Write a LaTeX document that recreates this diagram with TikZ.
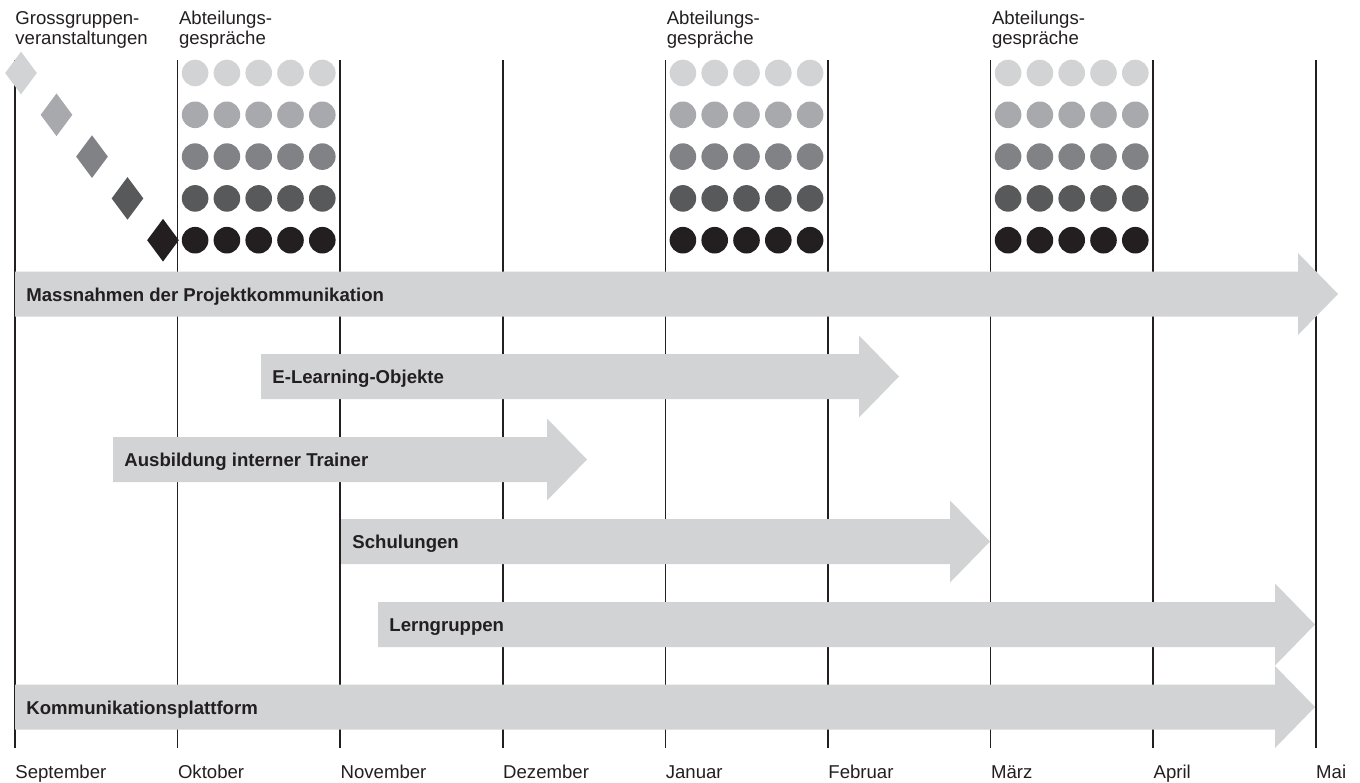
\documentclass[tikz,border=0pt]{standalone}
\usepackage{fontspec}
\setmainfont{Liberation Sans}
\usetikzlibrary{shapes.geometric}
\definecolor{shade1}{HTML}{D1D3D4}
\definecolor{shade2}{HTML}{A7A9AC}
\definecolor{shade3}{HTML}{808285}
\definecolor{shade4}{HTML}{58595B}
\definecolor{shade5}{HTML}{231F20}
\definecolor{bargray}{HTML}{D1D3D4}
\begin{document}
\begin{tikzpicture}[
       x=0.5pt, y=-0.5pt,
       font=\fontsize{9.3}{10}\selectfont,
       monthline/.style={line width=0.75pt, draw=shade5},
       monthname/.style={anchor=base west, inner sep=0pt, text=shade5},
       topnote/.style={anchor=north west, inner sep=0pt, align=left, text=shade5},
       dot/.style={circle, inner sep=0pt, minimum size=13.3pt},
       rhomb/.style={diamond, inner sep=0pt, minimum width=16pt, minimum height=21.5pt},
       barfill/.style={fill=bargray},
       bartext/.style={anchor=base west, inner sep=0pt, text=shade5, font=\fontsize{9.3}{10}\selectfont\bfseries}
   ]
   \useasboundingbox (0,0) rectangle (1360,782);

   \foreach \m [count=\i from 0] in {September,Oktober,November,Dezember,Januar,Februar,März,April,Mai} {
     \coordinate (top\i) at (15+162.6*\i,60);
     \coordinate (bot\i) at (15+162.6*\i,748);
     \draw[monthline] (top\i) -- (bot\i);
     \node[monthname] (month\i) at (15+162.6*\i,778) {\m};
   }

   \node[topnote] (gross) at (15,11) {Grossgruppen-\\veranstaltungen};
   \node[topnote] (abt1) at (178.6,11) {Abteilungs-\\gespräche};
   \node[topnote] (abt2) at (666.4,11) {Abteilungs-\\gespräche};
   \node[topnote] (abt3) at (991.6,11) {Abteilungs-\\gespräche};

   \foreach \r in {1,...,5}
     \node[rhomb, fill=shade\r] (gg\r) at (21+35.5*\r-35.5,73+41.8*\r-41.8) {};

   \foreach \g/\x in {okt/177.6,jan/665.4,mar/990.6}
     \foreach \r in {1,...,5}
       \foreach \c in {1,...,5}
         \node[dot, fill=shade\r] (\g-\r-\c) at (\x+17.5+31.8*\c-31.8,73+41.8*\r-41.8) {};

   \foreach \n/\xa/\xb/\y/\t in {
       mass/15/1338/294/Massnahmen der Projektkommunikation,
       elearn/261/899/376.5/E-Learning-Objekte,
       train/113/587/459.5/Ausbildung interner Trainer,
       schul/341/990/541.5/Schulungen,
       lern/378/1315/624.5/Lerngruppen,
       platt/15/1315/707/Kommunikationsplattform} {
     \fill[barfill] (\xa,\y-22.5) -- (\xb-40,\y-22.5) -- (\xb-40,\y-41) -- (\xb,\y)
       -- (\xb-40,\y+41) -- (\xb-40,\y+22.5) -- (\xa,\y+22.5) -- cycle;
     \node[bartext] (\n) at (\xa+11,\y+7) {\t};
   }
   \end{tikzpicture}
\end{document}
